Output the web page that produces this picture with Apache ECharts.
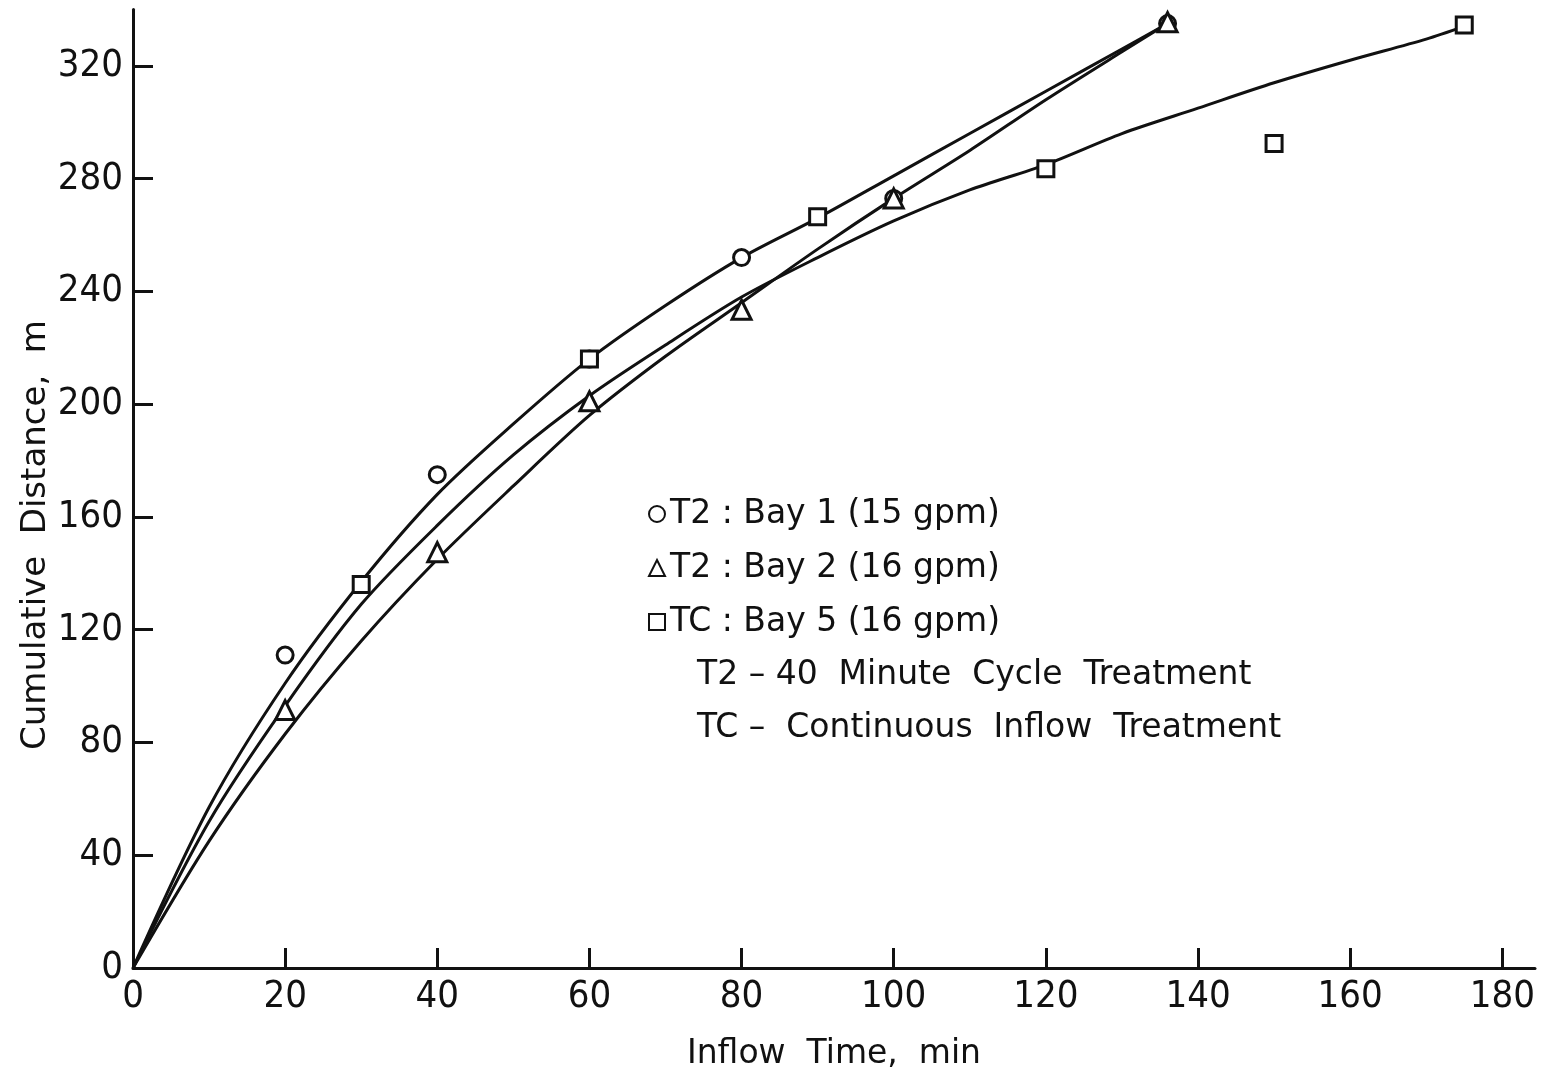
<!DOCTYPE html>
<html>
<head>
<meta charset="utf-8">
<script src="https://cdn.jsdelivr.net/npm/echarts@6/dist/echarts.min.js"></script>
<style>
  html, body { margin: 0; padding: 0; background: #fff; }
  #chart { width: 1555px; height: 1078px; }
</style>
</head>
<body>
<div id="chart"></div>
<script>
// measured points [inflow time (min), cumulative distance (m)]
const bay1Points = [[20, 111], [40, 175], [60, 216], [80, 252], [100, 273], [136, 335]];
const bay2Points = [[20, 91.5], [40, 147.5], [60, 201], [80, 233.5], [100, 273], [136, 335.5]];
const bay5Points = [[30, 136], [60, 216], [90, 266.5], [120, 283.5], [150, 292.5], [175, 334.5]];

// hand-fitted curves
const curveUpper = [[0, 0], [10, 57], [20, 101], [30, 137], [40, 168], [50, 193], [60, 216], [70, 235],
  [80, 252], [90, 266], [100, 281], [110, 296], [120, 311], [130, 326], [136, 335]];
const curveMiddle = [[0, 0], [10, 52], [20, 93], [30, 129], [40, 157], [50, 182], [60, 203], [70, 221],
  [80, 238], [90, 252], [100, 265], [110, 276], [120, 285], [130, 296], [140, 305], [150, 314],
  [160, 322], [170, 329.5], [175, 334]];
const curveLower = [[0, 0], [10, 45], [20, 83], [30, 116], [40, 145], [50, 171], [60, 196], [70, 217],
  [80, 236], [90, 255], [100, 273], [110, 290], [120, 308], [130, 325], [136, 335]];

const xTicks = [0, 20, 40, 60, 80, 100, 120, 140, 160, 180];
const yTicks = [0, 40, 80, 120, 160, 200, 240, 280, 320];

const seriesNames = ['T2 : Bay 1 (15 gpm)', 'T2 : Bay 2 (16 gpm)', 'TC : Bay 5 (16 gpm)'];
const notes = ['T2 – 40  Minute  Cycle  Treatment', 'TC –  Continuous  Inflow  Treatment'];
const yTitle = 'Cumulative  Distance,  m';

const ink = '#111';
const tickFont = "'DejaVu Sans Condensed', 'DejaVu Sans', sans-serif";
const textFont = "'DejaVu Sans', sans-serif";

const chart = echarts.init(document.getElementById('chart'));

function curve(data) {
  return {
    type: 'line', data: data, smooth: 0.3, symbol: 'none', silent: true,
    lineStyle: { color: ink, width: 3 }, z: 2
  };
}
function points(name, data, symbol, size) {
  return {
    type: 'scatter', name: name, data: data, symbol: symbol, symbolSize: size,
    itemStyle: { color: '#fff', borderColor: ink, borderWidth: 3, opacity: 1 }, z: 5
  };
}

chart.setOption({
  animation: false,
  backgroundColor: '#fff',
  grid: { left: 133, right: 20, top: 9.5, bottom: 110 },
  xAxis: {
    type: 'value', min: 0, max: 184.3,
    name: 'Inflow  Time,  min', nameLocation: 'middle', nameGap: 70,
    nameTextStyle: { fontFamily: textFont, fontSize: 33, color: ink },
    axisLine: { lineStyle: { color: ink, width: 3 } },
    axisTick: { inside: true, length: 20, lineStyle: { color: ink, width: 3 }, customValues: xTicks },
    axisLabel: { customValues: xTicks, fontFamily: tickFont, fontSize: 38, color: ink, margin: 10 },
    splitLine: { show: false }
  },
  yAxis: {
    type: 'value', min: 0, max: 340,
    axisLine: { lineStyle: { color: ink, width: 3 } },
    axisTick: { inside: true, length: 20, lineStyle: { color: ink, width: 3 }, customValues: yTicks },
    axisLabel: { customValues: yTicks, fontFamily: tickFont, fontSize: 38, color: ink, margin: 10 },
    splitLine: { show: false }
  },
  legend: {
    orient: 'vertical', left: 643, top: 491,
    itemWidth: 16, itemHeight: 16, itemGap: 18,
    data: seriesNames,
    textStyle: { fontFamily: textFont, fontSize: 33, color: ink, lineHeight: 36 },
    selectedMode: false
  },
  graphic: [
    {
      // y-axis title sits lower than the axis middle in the original
      type: 'text', x: 36, y: 535, rotation: Math.PI / 2,
      style: { text: yTitle, font: '34px ' + textFont, fill: ink, align: 'center', verticalAlign: 'middle' }
    }
  ].concat(notes.map((t, i) => ({
    type: 'text', left: 697, top: 659 + i * 53,
    style: { text: t, font: '33px ' + textFont, fill: ink }
  }))),
  series: [
    curve(curveUpper),
    curve(curveMiddle),
    curve(curveLower),
    points(seriesNames[0], bay1Points, 'circle', 16),
    points(seriesNames[1], bay2Points, 'triangle', 19),
    points(seriesNames[2], bay5Points, 'rect', 16)
  ]
});
</script>
</body>
</html>
